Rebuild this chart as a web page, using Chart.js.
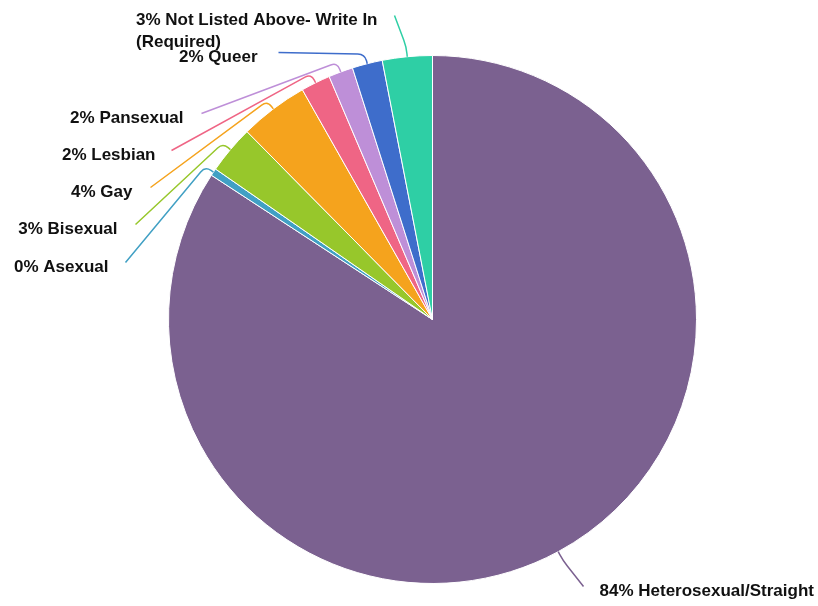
<!DOCTYPE html>
<html>
<head>
<meta charset="utf-8">
<script src="https://cdn.jsdelivr.net/npm/chart.js@4"></script>
<style>
  body { margin: 0; background: #fff; }
  #wrap { width: 818px; height: 606px; }
</style>
</head>
<body>
<div id="wrap"><canvas id="pieChart" width="818" height="606"></canvas></div>
<script>
// slice data, clockwise from 12 o'clock
const categories = [
    'Heterosexual/Straight',
    'Asexual',
    'Bisexual',
    'Gay',
    'Lesbian',
    'Pansexual',
    'Queer',
    'Not Listed Above- Write In (Required)'
];
const shares = [84.2, 0.45, 2.95, 4.2, 1.8, 1.5, 1.85, 3.05];
const sliceColors = ['#7b6190', '#41a0c4', '#97c72b', '#f5a31d', '#ef6585', '#be8fd8', '#3e6dcb', '#2ecfa5'];

// where each outside label sits, relative to the pie centre
const labelLayout = [
    { dx: 151, dy: 267, side: 'right', gap: 16 },
    { dx: -307, dy: -57, side: 'left', gap: 17 },
    { dx: -297, dy: -95, side: 'left', gap: 18 },
    { dx: -282, dy: -132, side: 'left', gap: 18 },
    { dx: -261, dy: -169, side: 'left', gap: 16 },
    { dx: -231, dy: -206, side: 'left', gap: 18 },
    { dx: -154, dy: -267, side: 'left', gap: 21 },
    { dx: -38, dy: -304, side: 'left', gap: 17 }
];

function wrapText(ctx, text, maxWidth) {
    const words = text.split(' ');
    const lines = [];
    let line = '';
    words.forEach(w => {
        const test = line ? line + ' ' + w : w;
        if (ctx.measureText(test).width > maxWidth && line) {
            lines.push(line);
            line = w;
        } else {
            line = test;
        }
    });
    if (line) lines.push(line);
    return lines;
}

const outsideLabels = {
    id: 'outsideLabels',
    afterDraw(chart) {
        const ctx = chart.ctx;
        const meta = chart.getDatasetMeta(0);
        const values = chart.data.datasets[0].data;
        const total = values.reduce((a, b) => a + b, 0);

        ctx.save();
        ctx.font = 'bold 17px "Liberation Sans", Arial, sans-serif';
        ctx.textBaseline = 'middle';

        meta.data.forEach((arc, i) => {
            const p = arc.getProps(['x', 'y', 'startAngle', 'endAngle', 'outerRadius'], true);
            const mid = (p.startAngle + p.endAngle) / 2;
            const ux = Math.cos(mid), uy = Math.sin(mid);
            const rim = { x: p.x + ux * p.outerRadius, y: p.y + uy * p.outerRadius };
            const elbow = { x: p.x + ux * (p.outerRadius + 10), y: p.y + uy * (p.outerRadius + 10) };
            const lay = labelLayout[i];
            const anchor = { x: p.x + lay.dx, y: p.y + lay.dy };

            // leader line: radial stub, rounded corner, then over to the label
            const ex = anchor.x - elbow.x, ey = anchor.y - elbow.y;
            const el = Math.hypot(ex, ey) || 1;
            const after = { x: elbow.x + ex / el * 7, y: elbow.y + ey / el * 7 };
            ctx.beginPath();
            ctx.moveTo(rim.x, rim.y);
            ctx.lineTo(rim.x + ux * 3, rim.y + uy * 3);
            ctx.quadraticCurveTo(elbow.x, elbow.y, after.x, after.y);
            ctx.lineTo(anchor.x, anchor.y);
            ctx.strokeStyle = sliceColors[i];
            ctx.lineWidth = 1.5;
            ctx.stroke();

            // label text
            const pct = Math.round(values[i] / total * 100);
            const lines = wrapText(ctx, pct + '% ' + chart.data.labels[i], 290);
            const blockW = Math.max(...lines.map(l => ctx.measureText(l).width));
            const left = lay.side === 'left' ? anchor.x - lay.gap - blockW : anchor.x + lay.gap;
            ctx.fillStyle = '#111111';
            ctx.textAlign = 'left';
            lines.forEach((l, k) => {
                ctx.fillText(l, left, anchor.y + 5 + k * 22);
            });
        });
        ctx.restore();
    }
};

const ctx = document.getElementById('pieChart').getContext('2d');
const pieChart = new Chart(ctx, {
    type: 'pie',
    data: {
        labels: categories,
        datasets: [{
            data: shares,
            backgroundColor: sliceColors,
            borderColor: '#ffffff',
            borderWidth: 1
        }]
    },
    options: {
        responsive: false,
        animation: false,
        layout: {
            padding: { top: 55, bottom: 22, left: 168, right: 121 }
        },
        plugins: {
            legend: { display: false },
            tooltip: { enabled: false }
        }
    },
    plugins: [outsideLabels]
});
</script>
</body>
</html>
